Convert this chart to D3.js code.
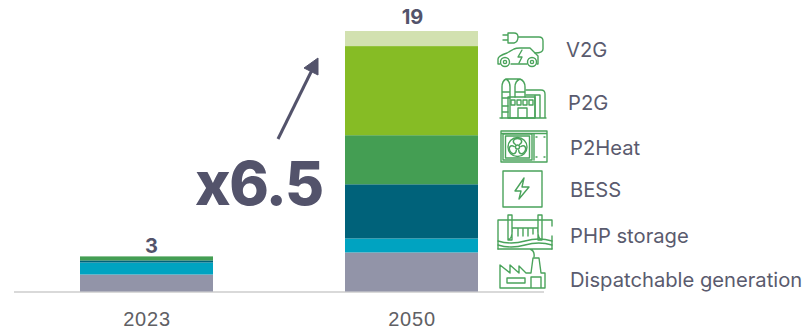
<!DOCTYPE html>
<html><head><meta charset="utf-8">
<script src="https://cdn.jsdelivr.net/npm/d3@7/dist/d3.min.js"></script>
<style>html,body{margin:0;padding:0;background:#fff}svg{display:block}text{font-family:Inter,Lato,sans-serif}</style>
</head><body><svg id="chart" width="806" height="330"></svg>
<script>
// Flexibility capacity by source, in stacking order from the baseline up.
const years = ["2023", "2050"];
const seriesNames = ["Dispatchable generation", "PHP storage", "BESS", "P2Heat", "P2G", "V2G"];
const seriesColors = ["#9294a8", "#00a3c1", "#00627a", "#449e53", "#86bc25", "#d2e1b0"];
const values2023 = [1.24, 0.88, 0.15, 0.29, 0, 0];
const values2050 = [2.85, 1.02, 3.95, 3.58, 6.5, 1.1];
const multiplierLabel = "x6.5";

const ink = "#53536b", soft = "#5a5b6e", iconGreen = "#4aa35b";
const svg = d3.select("#chart");

const bw = 133;
const xPos = d3.scalePoint().domain(years).range([146.5, 411.5]);
const y = d3.scaleLinear().domain([0, 19]).range([291.5, 31]);

const rows = years.map((yr, i) => {
  const vals = i === 0 ? values2023 : values2050;
  const o = { year: yr };
  seriesNames.forEach((n, k) => (o[n] = vals[k]));
  return o;
});
const stacked = d3.stack().keys(seriesNames)(rows);

// Baseline
svg.append("line").attr("x1", 14).attr("x2", 544).attr("y1", 292).attr("y2", 292)
  .attr("stroke", "#d9d9d9").attr("stroke-width", 2);

// Stacked columns
svg.append("g").selectAll("g").data(stacked).join("g")
  .attr("fill", (d, i) => seriesColors[i])
  .selectAll("rect").data(d => d).join("rect")
  .attr("x", d => xPos(d.data.year) - bw / 2)
  .attr("width", bw)
  .attr("y", d => y(d[1]))
  .attr("height", d => y(d[0]) - y(d[1]));

// Totals above the columns
const fmt = d3.format(".0f");
svg.append("g").selectAll("text").data(rows).join("text")
  .attr("x", d => xPos(d.year) + (d.year === "2023" ? 5 : 1))
  .attr("y", d => y(d3.sum(seriesNames, n => d[n])) - (d.year === "2023" ? 3 : 7))
  .attr("text-anchor", "middle").attr("font-size", 20).attr("font-weight", 700).attr("fill", ink)
  .text(d => fmt(d3.sum(seriesNames, n => d[n])));

// Year labels
svg.append("g").selectAll("text").data(years).join("text")
  .attr("x", d => xPos(d) + 0.5).attr("y", 326)
  .attr("text-anchor", "middle").attr("font-size", 20).attr("letter-spacing", 0.8)
  .style("font-family", "'Liberation Sans'").attr("fill", "#606064").text(d => d);

// Growth arrow and multiplier
svg.append("line").attr("x1", 278).attr("y1", 139).attr("x2", 312).attr("y2", 70)
  .attr("stroke", ink).attr("stroke-width", 3);
svg.append("path").attr("d", "M318,58 L318,75 L304,68 Z").attr("fill", ink).attr("stroke", ink).attr("stroke-linejoin", "round");
svg.append("text").attr("x", 195).attr("y", 205).attr("font-size", 60).attr("font-weight", 800)
  .attr("letter-spacing", -1.5).attr("fill", ink).text(multiplierLabel);

// Legend labels, top to bottom
const legendLabels = [
  { name: "V2G", x: 566, y: 57 }, { name: "P2G", x: 568, y: 110 }, { name: "P2Heat", x: 570, y: 155 },
  { name: "BESS", x: 570, y: 197 }, { name: "PHP storage", x: 570, y: 243 }, { name: "Dispatchable generation", x: 570, y: 287 }
];
svg.append("g").selectAll("text").data(legendLabels).join("text")
  .attr("x", d => d.x).attr("y", d => d.y).attr("font-size", 20.2).attr("fill", soft).text(d => d.name);

// Legend pictograms
const icons = svg.append("g").attr("fill", "none").attr("stroke", iconGreen).attr("stroke-width", 1.4)
  .attr("stroke-linejoin", "round").attr("stroke-linecap", "round");
const paths = [
  // V2G: plug, cable, car body and bolt
  "M503,35H508M503,40H508M508,33H514Q518,33 518,37Q518,42 514,43H508ZM518,37H539Q543,37 543,41V49Q543,53 535,53",
  "M498,64V59Q498,56 507,53L514,49Q516,48 520,48H530L538,56V64H537M527,64H511M500,64H498",
  "M522,50L518,57H522L519,63",
  // P2G: twin tanks, tower, hall with windows, side pipework
  "M502,118V87Q502,81 506,79Q510,81 510,87V118M515,97V87Q515,81 520,79Q525,81 525,87V97M506,79H520M502,92H510M515,92H525M502,98H510M502,106H508M502,112H508",
  "M508,97H535V118H508ZM518,118V108H527V118M511,100H515V105H511ZM517,100H521V105H517ZM523,100H527V105H523ZM529,100H533V105H529Z",
  "M526,90H541Q545,90 545,94V118M540,118V95H526M535,95V118M500,118H546",
  // P2Heat: casing, fan bay, service panel
  "M501,131H547V162H501ZM501,133.5H547M503,134H532V160H503ZM505.5,136H529.5V158H505.5ZM534,134V160",
  "M536,137h1M544,137h1M536,157h1M544,157h1",
  // BESS: cell outline and bolt
  "M503,171H542V207H503ZM524,178L515,191H521L519,199L529,187H522Z",
  // PHP storage: dam wall, spillway, water lines
  "M498,220H552M498,220V249M552,220V226M552,236V249M508,215H512V240H508ZM538,215H542V240H538ZM512,228H538M512,228Q513,238 508,240M538,228Q537,238 542,240M518,229V236M523,229V236M528,229V236M533,229V234",
  "M498,241Q511,245 525,241T552,241M498,245Q511,249 525,245T552,245M498,249H552M530,249Q535,251 534,257",
  // Dispatchable generation: saw-tooth roof, stack, annex
  "M500,265L510,273V265L519,273V266L526,273H531L533,258H539L541,273H545V288H500ZM507,278H525V283H507ZM531,277H541V288H531Z"
];
icons.selectAll("path").data(paths).join("path").attr("d", d => d);

// Car wheels
icons.append("g").selectAll("circle").data([[505, 62], [532, 62]]).join("circle")
  .attr("cx", d => d[0]).attr("cy", d => d[1]).attr("r", 4.5).attr("fill", "#fff");
icons.append("g").selectAll("circle").data([[505, 62], [532, 62]]).join("circle")
  .attr("cx", d => d[0]).attr("cy", d => d[1]).attr("r", 1.6);

// Fan rotor for the P2Heat unit: ring, hub and three blades
const fan = icons.append("g").attr("transform", "translate(517.5,147)");
fan.append("circle").attr("r", 9.5);
fan.append("circle").attr("r", 2);
fan.selectAll("path").data([0, 120, 240]).join("path")
  .attr("transform", d => `rotate(${d})`)
  .attr("d", "M-2,-2.5C-6,-5 -4,-8.5 0,-8.5C4,-8.5 6,-5 2,-2.5");
</script></body></html>
